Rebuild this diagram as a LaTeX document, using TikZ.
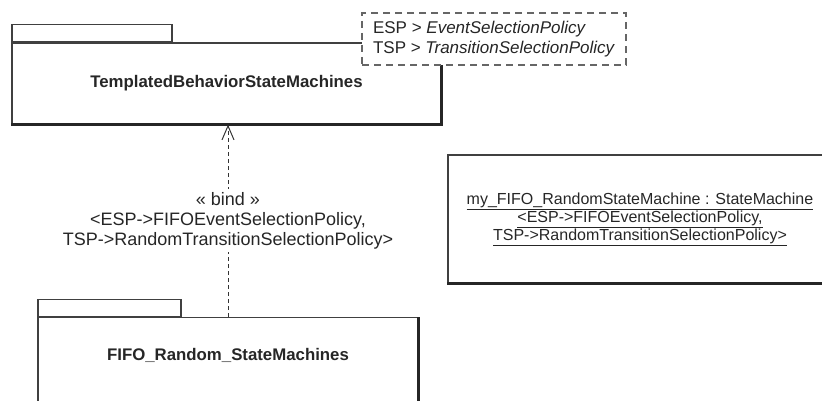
\documentclass[tikz,border=0pt]{standalone}
\usepackage{fontspec}
\setmainfont{Liberation Sans}
\usetikzlibrary{arrows.meta,positioning}

\begin{document}
\begin{tikzpicture}[
    x=1pt, y=-1pt,
    pkg/.style={rectangle, draw=black!75, line width=1.2pt, inner sep=0pt,
                text=black!85, font=\fontsize{16.8}{20}\selectfont\bfseries},
    pkgtab/.style={rectangle, draw=black!75, line width=1.2pt, inner sep=0pt,
                   minimum height=17pt},
    shadow/.style={draw=black!85, line width=2.4pt},
    params/.style={rectangle, draw=black!60, line width=1.2pt,
                   dash pattern=on 7pt off 5pt, fill=white, align=left,
                   text=black!85, font=\fontsize{17}{20}\selectfont},
    bindline/.style={draw=black!80, line width=1pt, dash pattern=on 4pt off 3pt,
                     -{Straight Barb[length=14pt, width=12pt]}},
    bindlbl/.style={fill=white, align=center, inner sep=3pt, text=black!85,
                    font=\fontsize{18}{20}\selectfont},
    inst/.style={rectangle, draw=black!75, line width=1.2pt, align=center,
                 text=black!85, font=\fontsize{16}{16.5}\selectfont}
  ]
  \useasboundingbox (0,0) rectangle (822,401);
  \clip (0,0) rectangle (822,401);

  % ---- Template package ----
  \node[pkg, minimum width=429pt, minimum height=81pt] (tbsm) at (226.5,83.5)
        {TemplatedBehaviorStateMachines};
  \node[pkgtab, minimum width=160pt, above right=0pt and 0pt of tbsm.north west] (tbsmtab) {};
  \draw[shadow] (tbsm.south west) -- (tbsm.south east) -- (tbsm.north east);
  \node[params, minimum width=264pt, minimum height=52pt] (tparams) at (494,39)
        {ESP > \textit{EventSelectionPolicy}\\TSP > \textit{TransitionSelectionPolicy}};

  % ---- Bound package ----
  \node[pkg, minimum width=380pt, minimum height=110pt, anchor=north] (fifo) at (228,317) {};
  \node[pkgtab, minimum width=143pt, above right=0pt and 0pt of fifo.north west] (fifotab) {};
  \draw[shadow] (fifo.north east) -- (fifo.south east) -- (fifo.south west);
  \node[pkg, draw=none] (fifoname) at ([yshift=-38pt]fifo.north) {FIFO\_Random\_StateMachines};

  % ---- Binding ----
  \draw[bindline] (fifo.north) -- node[bindlbl] (bindtxt)
        {« bind »\\<ESP->FIFOEventSelectionPolicy,\\TSP->RandomTransitionSelectionPolicy>}
        (fifo.north |- tbsm.south);

  % ---- Instance ----
  \node[inst, minimum width=384pt, minimum height=128pt] (myfifo) at (640,219)
        {\underline{my\_FIFO\_RandomStateMachine : StateMachine}\\
         \underline{<ESP->FIFOEventSelectionPolicy,}\\
         \underline{TSP->RandomTransitionSelectionPolicy>}};
  \draw[shadow] (myfifo.south west) -- (myfifo.south east) -- (myfifo.north east);
\end{tikzpicture}
\end{document}
